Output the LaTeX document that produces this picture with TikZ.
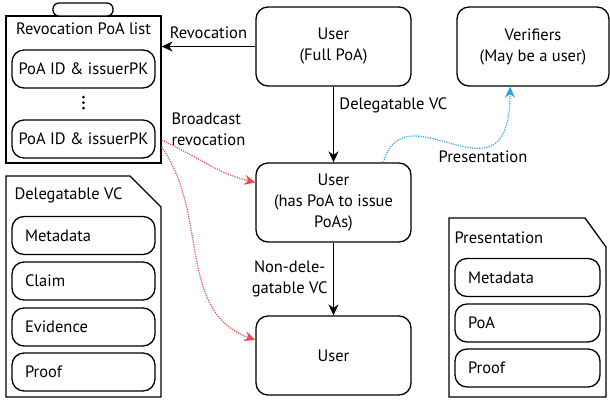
\documentclass[tikz,border=0pt]{standalone}
\usepackage{fontspec}
\setmainfont{PT Sans}
\usetikzlibrary{arrows.meta,positioning}
\definecolor{revred}{HTML}{EE4A4A}
\definecolor{presblue}{HTML}{2AA8E0}

\begin{document}
\begin{tikzpicture}
  [
  x=1pt, y=-1pt,
  font=\fontsize{16.5}{21}\selectfont,
  usernode/.style={draw, rounded corners=12pt, align=center, line width=1.3pt, minimum width=155pt, minimum height=79pt},
  fieldnode/.style={draw, rounded corners=12pt, line width=1.3pt, minimum height=38pt, inner xsep=13pt, text width=#1, align=left},
  fieldnode/.default=117pt,
  entrynode/.style={draw, rounded corners=12pt, line width=1.3pt, minimum height=38pt, minimum width=143pt, inner xsep=2pt},
  docline/.style={draw, line width=1.3pt, line join=miter},
  flowarrow/.style={draw, -{Stealth[length=11pt, width=10pt]}, line width=1.3pt},
  revarrow/.style={draw=revred, -{Stealth[length=11pt, width=10pt]}, line width=1.2pt, dash pattern=on 1.2pt off 1.2pt},
  presarrow/.style={draw=presblue, -{Stealth[length=11pt, width=10pt]}, line width=1.2pt, dash pattern=on 1.2pt off 1.2pt}
  ]
  \useasboundingbox (0,0) rectangle (610,400);

  % revocation list
  \node[draw, line width=1.3pt, minimum width=155pt, minimum height=147pt] (revlist) at (83.5,89.5) {};
  \node[draw, fill=white, rounded corners=6pt, line width=1.3pt, minimum width=60pt, minimum height=13pt] (revtab) at (83,9.5) {};
  \node (revtitle) at (83.5,29) {Revocation PoA list};
  \node[entrynode] (poa1) at (83.5,69) {PoA ID \& issuerPK};
  \node[entrynode] (poa2) at (83.5,139) {PoA ID \& issuerPK};
  \foreach \y in {97,102.5,108}
    \fill (83.5,\y) circle (1.5pt);

  % users
  \node[usernode] (userfull) at (333.5,46.5) {User\\(Full PoA)};
  \node[usernode, minimum width=152pt] (verifier) at (533,46.5) {Verifiers\\(May be a user)};
  \node[usernode] (userdel) at (333.5,202.5) {User\\(has PoA to issue\\PoAs)};
  \node[usernode] (userleaf) at (333.5,355.5) {User};

  % delegatable VC document
  \path[docline] (6,176) -- (130,176) -- (161,207) -- (161,397) -- (6,397) -- cycle;
  \node[anchor=west] (dvctitle) at (11,195) {Delegatable VC};
  \node[fieldnode] (dmeta) at (83.5,235.5) {Metadata};
  \node[fieldnode] (dclaim) at (83.5,281) {Claim};
  \node[fieldnode] (devid) at (83.5,327) {Evidence};
  \node[fieldnode] (dproof) at (83.5,372) {Proof};

  % presentation document
  \path[docline] (449,218) -- (585,218) -- (606,247) -- (606,397) -- (449,397) -- cycle;
  \node[anchor=west] (prestitle) at (451,238) {Presentation};
  \node[fieldnode=119pt] (pmeta) at (527.5,277.5) {Metadata};
  \node[fieldnode=119pt] (ppoa) at (527.5,323) {PoA};
  \node[fieldnode=119pt] (pproof) at (527.5,368) {Proof};

  % connectors
  \path[flowarrow] (userfull.west) -- node[midway, above=4pt] {Revocation} (userfull.west -| revlist.east);
  \path[flowarrow] (userfull) -- node[pos=0.25, right=2pt] {Delegatable VC} (userdel);
  \path[flowarrow] (userdel) -- node[midway, left=2pt, align=center] {Non-dele-\\gatable VC} (userleaf);
  \path[revarrow] ([yshift=-1pt]poa2.east -| revlist.east) to[out=-25, in=166] ([yshift=20pt]userdel.west);
  \path[revarrow] ([yshift=-8pt]poa2.east -| revlist.east) to[out=-55, in=160] ([yshift=15.5pt]userleaf.west);
  \node[anchor=west, align=left] (bcast) at (168,129) {Broadcast\\revocation};
  \path[presarrow] ([xshift=50pt]userdel.north) .. controls (405,85) and (510,215) .. ([xshift=-23pt]verifier.south);
  \node (prestext) at (483,157) {Presentation};
\end{tikzpicture}
\end{document}
